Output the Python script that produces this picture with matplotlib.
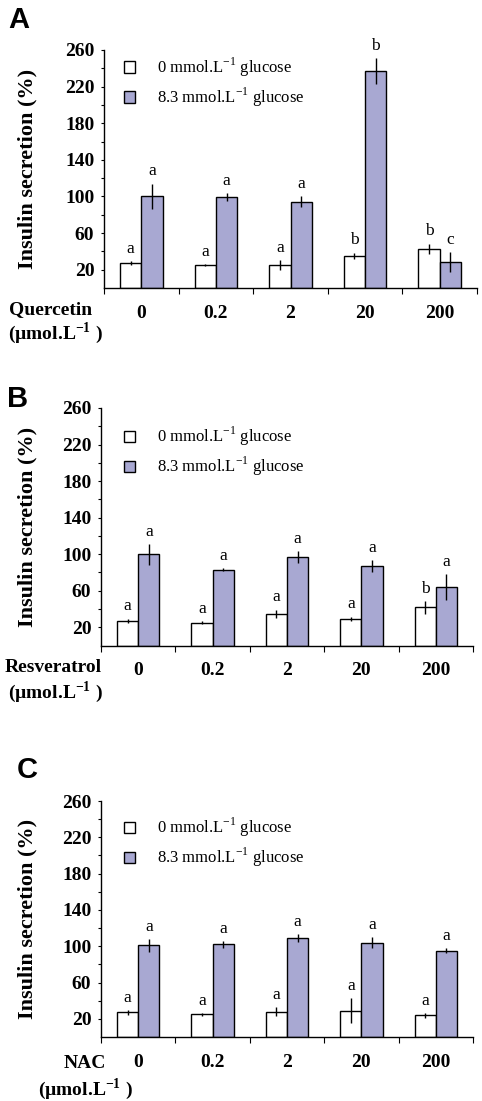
import numpy as np
import matplotlib
matplotlib.use("Agg")
import matplotlib.pyplot as plt
from matplotlib.patches import Patch

plt.rcParams['font.family'] = ['Liberation Serif', 'DejaVu Serif']
plt.rcParams['mathtext.fontset'] = 'custom'
plt.rcParams['mathtext.rm'] = 'Liberation Serif'
plt.rcParams['mathtext.bf'] = 'Liberation Serif:bold'

# ─── DATA ────────────────────────────────────────────────────────────────────
doses = ['0', '0.2', '2', '20', '200']
compounds = ['Quercetin', 'Resveratrol', 'NAC']
panels = ['A', 'B', 'C']

# 0 mmol/L glucose (white bars)
low_A = [27, 25, 25, 35, 43]
low_A_err = [2, 1.5, 5.5, 3.6, 5.5]
low_A_sig = ['a', 'a', 'a', 'b', 'b']
# 8.3 mmol/L glucose (lavender bars)
high_A = [100, 99, 94, 237, 28]
high_A_err = [14, 4.5, 6, 14, 11]
high_A_sig = ['a', 'a', 'a', 'b', 'c']

low_B = [27, 25, 35, 29, 42]
low_B_err = [2.4, 1.5, 4.4, 2.7, 7]
low_B_sig = ['a', 'a', 'a', 'a', 'b']
high_B = [100, 83, 97, 87, 64]
high_B_err = [11.4, 1.3, 6.4, 6.8, 14.6]
high_B_sig = ['a', 'a', 'a', 'a', 'a']

low_C = [27, 25, 28, 29, 24]
low_C_err = [2.4, 1.5, 5, 14, 2.6]
low_C_sig = ['a', 'a', 'a', 'a', 'a']
high_C = [101, 102, 109, 104, 95]
high_C_err = [7, 3.8, 4.6, 6, 2.9]
high_C_sig = ['a', 'a', 'a', 'a', 'a']

yticks_major = [20, 60, 100, 140, 180, 220, 260]
yticks_minor = [40, 80, 120, 160, 200, 240]

LAV = '#A8A8D2'
W, H = 482, 1101

fig = plt.figure(figsize=(W / 100, H / 100), dpi=100)

def px_axes(left, right, top, bottom):
    return fig.add_axes([left / W, 1 - bottom / H, (right - left) / W, (bottom - top) / H])

# pixel boxes of each panel (left, right, top, bottom)
boxes = [(104, 477, 50, 288), (101, 473, 408, 645.5), (101, 473, 801, 1037)]
legend_pos = [(0.054, 0.975), (0.062, 0.928), (0.062, 0.936)]
letter_pos = [(8, 28), (7, 407), (17, 778)]
comp_pos = [((51, 310), (55, 333)), ((53, 667), (55, 692)), ((85, 1064), (85, 1089))]

data = [
    (low_A, low_A_err, low_A_sig, high_A, high_A_err, high_A_sig),
    (low_B, low_B_err, low_B_sig, high_B, high_B_err, high_B_sig),
    (low_C, low_C_err, low_C_sig, high_C, high_C_err, high_C_sig),
]

bw = 0.285
x = np.arange(len(doses))

for i, (lo, lo_e, lo_s, hi, hi_e, hi_s) in enumerate(data):
    ax = px_axes(*boxes[i])
    ax.bar(x - bw / 2, lo, bw, color='white', edgecolor='black', linewidth=1.0, zorder=2)
    ax.bar(x + bw / 2, hi, bw, color=LAV, edgecolor='black', linewidth=1.0, zorder=2)
    ax.errorbar(x - bw / 2, lo, yerr=lo_e, fmt='none', ecolor='black', elinewidth=1.0, capsize=0, zorder=3)
    ax.errorbar(x + bw / 2, hi, yerr=hi_e, fmt='none', ecolor='black', elinewidth=1.0, capsize=0, zorder=3)
    for xi, v, e, s in zip(x - bw / 2, lo, lo_e, lo_s):
        ax.annotate(s, (xi, v + e), xytext=(0, 3), textcoords='offset points',
                    ha='center', va='bottom', fontsize=12.5)
    for xi, v, e, s in zip(x + bw / 2, hi, hi_e, hi_s):
        ax.annotate(s, (xi, v + e), xytext=(0, 3), textcoords='offset points',
                    ha='center', va='bottom', fontsize=12.5)

    ax.set_xlim(-0.5, 4.5)
    ax.set_ylim(0, 260)
    for sp in ['top', 'right']:
        ax.spines[sp].set_visible(False)
    ax.spines['left'].set_linewidth(1.0)
    ax.spines['bottom'].set_linewidth(1.0)

    ax.set_yticks(yticks_major)
    ax.set_yticklabels([str(t) for t in yticks_major], fontsize=14, fontweight='bold')
    ax.set_yticks(yticks_minor, minor=True)
    ax.tick_params(axis='y', which='both', length=2, width=0.8, pad=5)

    ax.set_xticks(np.arange(-0.5, 5, 1))
    ax.set_xticklabels([])
    ax.set_xticks(x, minor=True)
    ax.set_xticklabels(doses, minor=True, fontsize=14, fontweight='bold')
    ax.tick_params(axis='x', which='major', length=4, width=0.8)
    ax.tick_params(axis='x', which='minor', length=0, pad=12)

    handles = [Patch(facecolor='white', edgecolor='black', linewidth=1.0),
               Patch(facecolor=LAV, edgecolor='black', linewidth=1.0)]
    labels = ['0 mmol.L$^{-1}$ glucose', '8.3 mmol.L$^{-1}$ glucose']
    ax.legend(handles, labels, loc='upper left', bbox_to_anchor=legend_pos[i],
              frameon=False, fontsize=12, borderpad=0, borderaxespad=0,
              handlelength=0.68, handleheight=0.68, handletextpad=1.3,
              labelspacing=0.4)

    # panel letter
    fig.text(letter_pos[i][0] / W, 1 - letter_pos[i][1] / H, panels[i],
             family=['Liberation Sans', 'DejaVu Sans'], fontweight='bold', fontsize=21,
             ha='left', va='baseline')

    # y label
    l, r, t, b = boxes[i]
    fig.text(27 / W, 1 - ((t + b) / 2) / H, 'Insulin secretion (%)', rotation=90,
             fontsize=16, fontweight='bold', ha='center', va='center')

    # compound label
    (cx, cy), (ux, uy) = comp_pos[i]
    fig.text(cx / W, 1 - cy / H, compounds[i], fontsize=14, fontweight='bold',
             ha='center', va='center')
    fig.text(ux / W, 1 - uy / H, '(\u00b5mol.L$^{\\mathbf{-1}}$ )', fontsize=14,
             fontweight='bold', ha='center', va='center')

fig.savefig('out.png', dpi=100, facecolor='white')
